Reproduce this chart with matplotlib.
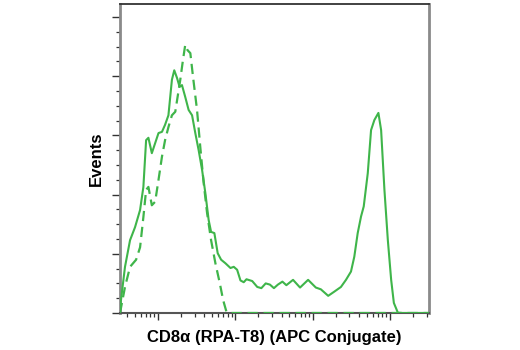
import matplotlib
matplotlib.use("Agg")
import matplotlib.pyplot as plt
from matplotlib.ticker import LogLocator, MultipleLocator, NullFormatter

# CD8a stained (solid) histogram
solid_x = [3.24, 3.76, 4.37, 5.07, 5.89, 6.50, 7.05, 7.55, 8.36, 9.23, 10.2, 11.3, 12.4, 13.7,
           15.2, 16.3, 17.7, 19.1, 20.5, 22.6, 25.0, 27.7, 30.5, 33.7, 37.3, 41.1, 45.4, 48.8,
           53.8, 59.4, 65.8, 74.8, 86.9, 95.9, 106, 117, 129, 140, 166, 193, 218, 248, 281, 317,
           357, 408, 459, 560, 690, 877, 1104, 1282, 1595, 1909, 2331, 2708, 3143, 3469, 3840,
           4240, 4595, 5180, 5716, 6310, 7113, 7711, 8511, 9420, 10400, 11270, 12700, 14500, 31800]
solid_y = [0.08, 0.78, 1.23, 1.45, 1.74, 2.13, 2.92, 2.96, 2.70, 2.87, 3.04, 3.06, 3.18, 3.34,
           3.94, 4.10, 3.97, 3.82, 3.85, 3.65, 3.43, 3.34, 3.04, 2.75, 2.42, 2.03, 1.57, 1.37,
           1.35, 1.01, 0.90, 0.84, 0.76, 0.78, 0.73, 0.55, 0.52, 0.57, 0.54, 0.44, 0.42, 0.50, 0.48, 0.42,
           0.48, 0.53, 0.47, 0.56, 0.43, 0.56, 0.43, 0.40, 0.29, 0.36, 0.44, 0.56, 0.70, 0.95, 1.35,
           1.63, 1.80, 2.36, 3.09, 3.26, 3.38, 3.09, 2.08, 1.23, 0.56, 0.17, 0.005, 0.0, 0.0]

# isotype control (dashed) histogram
dashed_x = [3.24, 3.76, 4.37, 5.23, 5.89, 6.50, 7.05, 7.55, 8.36, 9.23, 10.2, 11.3, 12.4, 13.7,
            15.2, 16.8, 18.0, 19.5, 21.1, 22.6, 24.2, 26.3, 28.5, 32.1, 35.4, 39.1, 43.3, 48.8,
            55.5, 63.1, 69.8, 77.1, 86.9, 31800]
dashed_y = [0.0, 0.44, 0.78, 0.90, 1.11, 1.62, 2.08, 2.13, 1.82, 1.88, 2.25, 2.64, 2.92, 3.14,
            3.34, 3.40, 3.65, 3.94, 4.27, 4.53, 4.44, 4.39, 3.99, 3.43, 2.80, 2.20, 1.69, 1.23,
            0.84, 0.51, 0.22, 0.02, 0.0, 0.0]

x_label = "CD8\u03b1 (RPA-T8) (APC Conjugate)"
y_label = "Events"

green = "#3fb54a"

fig = plt.figure(figsize=(5.2, 3.5), dpi=100)
ax = fig.add_axes([120/520, 1-313/350, (428.7-120)/520, (313-4)/350])

ax.plot(dashed_x, dashed_y, color=green, lw=1.6, linestyle=(0, (4.6, 2.6)), zorder=3)
ax.plot(solid_x, solid_y, color=green, lw=1.5, zorder=4)

ax.set_xscale("log")
ax.set_xlim(3.24, 31800)
ax.set_ylim(0, 5.22)

ax.xaxis.set_major_locator(LogLocator(base=10, numticks=10))
ax.xaxis.set_minor_locator(LogLocator(base=10, subs=range(2, 10), numticks=20))
ax.xaxis.set_major_formatter(NullFormatter())
ax.xaxis.set_minor_formatter(NullFormatter())
ax.yaxis.set_major_locator(MultipleLocator(1))
ax.yaxis.set_minor_locator(MultipleLocator(0.25))
ax.yaxis.set_major_formatter(NullFormatter())

ax.tick_params(axis="both", which="major", direction="out", length=5, width=1.0, color="#333333")
ax.tick_params(axis="both", which="minor", direction="out", length=3, width=0.9, color="#333333")
ax.tick_params(axis="y", which="major", length=6)

ax.spines["left"].set_color("#8a8a8a")
ax.spines["left"].set_linewidth(2.0)
ax.spines["right"].set_color("#8a8a8a")
ax.spines["right"].set_linewidth(2.0)
ax.spines["top"].set_color("#333333")
ax.spines["top"].set_linewidth(1.3)
ax.spines["bottom"].set_color("#555555")
ax.spines["bottom"].set_linewidth(1.5)

fam = ["Liberation Sans", "DejaVu Sans"]
ax.set_xlabel(x_label, fontsize=12, fontweight="bold", family=fam, labelpad=4)
ax.set_ylabel(y_label, fontsize=12, fontweight="bold", family=fam, labelpad=2)

fig.savefig("out.png", dpi=100)
